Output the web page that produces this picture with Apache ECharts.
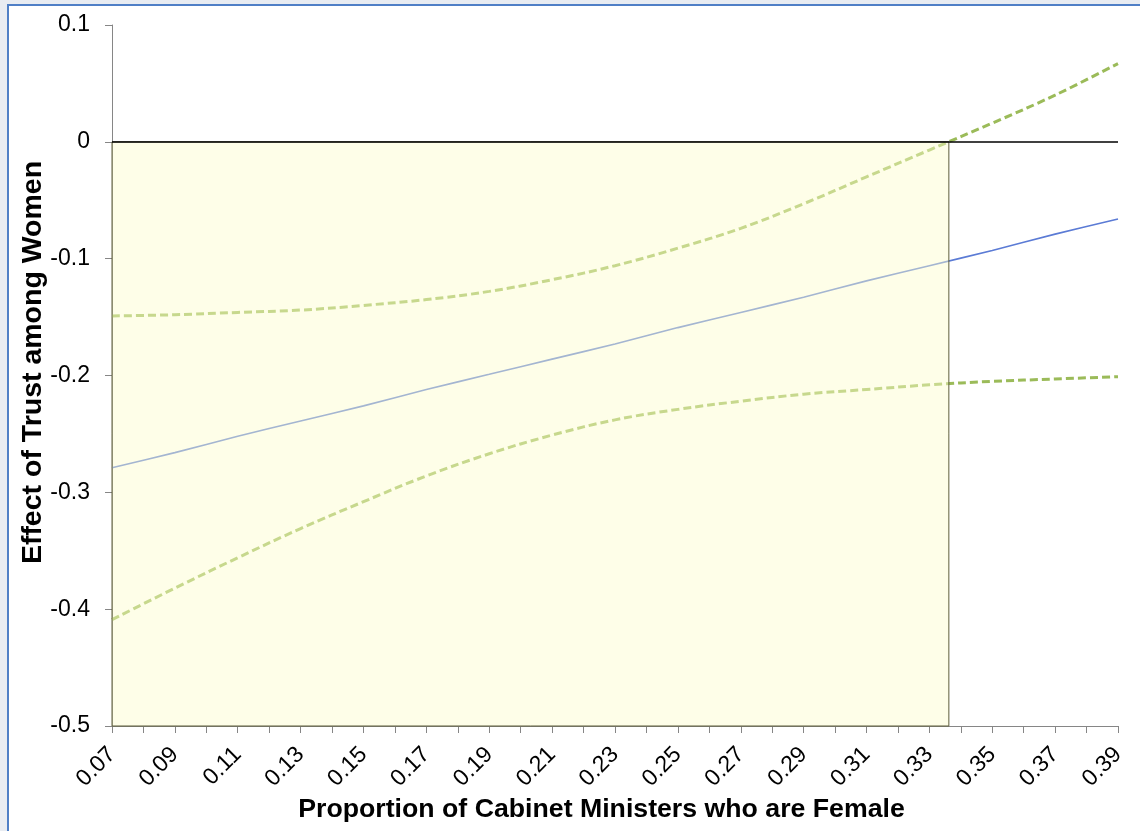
<!DOCTYPE html>
<html>
<head>
<meta charset="utf-8">
<title>Effect of Trust among Women</title>
<script src="https://cdn.jsdelivr.net/npm/echarts@6/dist/echarts.min.js"></script>
<style>
  html, body { margin: 0; padding: 0; background: #e8ecf2; }
  #chart { width: 1140px; height: 831px; }
</style>
</head>
<body>
<div id="chart"></div>
<script>
// Proportion of cabinet ministers who are female
const proportion = [0.07, 0.09, 0.11, 0.13, 0.15, 0.17, 0.19, 0.21, 0.23, 0.25, 0.27, 0.29, 0.31, 0.33, 0.35, 0.37, 0.39];
// Marginal effect of trust among women
const effect = [-0.279, -0.266, -0.252, -0.239, -0.226, -0.212, -0.199, -0.186, -0.173, -0.159, -0.146, -0.133, -0.119, -0.106, -0.093, -0.079, -0.066];
// Upper and lower confidence bounds
const upperBound = [-0.149, -0.148, -0.146, -0.144, -0.140, -0.135, -0.128, -0.118, -0.106, -0.091, -0.074, -0.053, -0.030, -0.007, 0.016, 0.040, 0.067];
const lowerBound = [-0.409, -0.382, -0.356, -0.331, -0.308, -0.286, -0.267, -0.251, -0.238, -0.229, -0.222, -0.216, -0.212, -0.208, -0.205, -0.203, -0.201];
// Region where the effect is significantly negative (upper bound below zero)
const shadeStart = 0.07;
const shadeEnd = 0.3362;

const FONT = "'Liberation Sans', Arial, sans-serif";
const pairs = (ys) => proportion.map((x, i) => [x, ys[i]]);

const chart = echarts.init(document.getElementById('chart'), null, { renderer: 'canvas' });

chart.setOption({
  animation: false,
  backgroundColor: '#e8ecf2',
  textStyle: { fontFamily: FONT },
  graphic: [{
    type: 'rect',
    z: -100,
    silent: true,
    shape: { x: 8, y: 5, width: 1200, height: 900 },
    style: { fill: '#ffffff', stroke: '#4f7fc6', lineWidth: 2 }
  }],
  grid: { left: 112, right: 22, top: 25, bottom: 105, containLabel: false },
  xAxis: {
    type: 'value',
    min: 0.07,
    max: 0.39,
    interval: 0.01,
    name: 'Proportion of Cabinet Ministers who are Female',
    nameLocation: 'middle',
    nameMoveOverlap: false,
    nameGap: 70,
    nameTextStyle: { fontFamily: FONT, fontSize: 26.7, fontWeight: 'bold', color: '#000', padding: [0, 27, 0, 0] },
    axisLine: { show: true, onZero: false, lineStyle: { color: '#868686', width: 1 } },
    axisTick: { show: true, length: 7, lineStyle: { color: '#868686' } },
    axisLabel: {
      rotate: 45,
      margin: 25,
      fontFamily: FONT,
      fontSize: 23,
      color: '#000',
      formatter: (v) => (Math.round(v * 100) % 2 === 1 ? v.toFixed(2) : '')
    },
    splitLine: { show: false }
  },
  yAxis: {
    type: 'value',
    min: -0.5,
    max: 0.1,
    interval: 0.1,
    name: 'Effect of Trust among Women',
    nameLocation: 'middle',
    nameMoveOverlap: false,
    nameRotate: 90,
    nameGap: 64,
    nameTextStyle: { fontFamily: FONT, fontSize: 28.5, fontWeight: 'bold', color: '#000', padding: [0, 0, 0, 26] },
    axisLine: { show: true, onZero: false, lineStyle: { color: '#868686', width: 1 } },
    axisTick: { show: true, length: 7, lineStyle: { color: '#868686' } },
    axisLabel: {
      margin: 22,
      fontFamily: FONT,
      fontSize: 23,
      color: '#000',
      formatter: (v) => String(Math.round(v * 10) / 10)
    },
    splitLine: { show: false }
  },
  series: [
    {
      name: 'Lower bound',
      type: 'line',
      data: pairs(lowerBound),
      smooth: 0.4,
      symbol: 'none',
      z: 2,
      lineStyle: { color: '#9bbb59', width: 3, type: [8, 4] }
    },
    {
      name: 'Upper bound',
      type: 'line',
      data: pairs(upperBound),
      smooth: 0.4,
      symbol: 'none',
      z: 2,
      lineStyle: { color: '#9bbb59', width: 3, type: [8, 4] }
    },
    {
      name: 'Effect',
      type: 'line',
      data: pairs(effect),
      smooth: 0.3,
      symbol: 'none',
      z: 2,
      lineStyle: { color: '#5b7bd5', width: 1.6 },
      markArea: {
        z: 5,
        silent: true,
        itemStyle: { color: 'rgba(252, 252, 205, 0.45)', borderColor: '#5e5e3c', borderWidth: 1 },
        data: [[{ xAxis: shadeStart, yAxis: -0.5 }, { xAxis: shadeEnd, yAxis: 0 }]]
      },
      markLine: {
        z: 6,
        silent: true,
        symbol: 'none',
        label: { show: false },
        lineStyle: { color: '#000', width: 1.5, type: 'solid' },
        data: [{ yAxis: 0 }]
      }
    }
  ]
});
</script>
</body>
</html>
